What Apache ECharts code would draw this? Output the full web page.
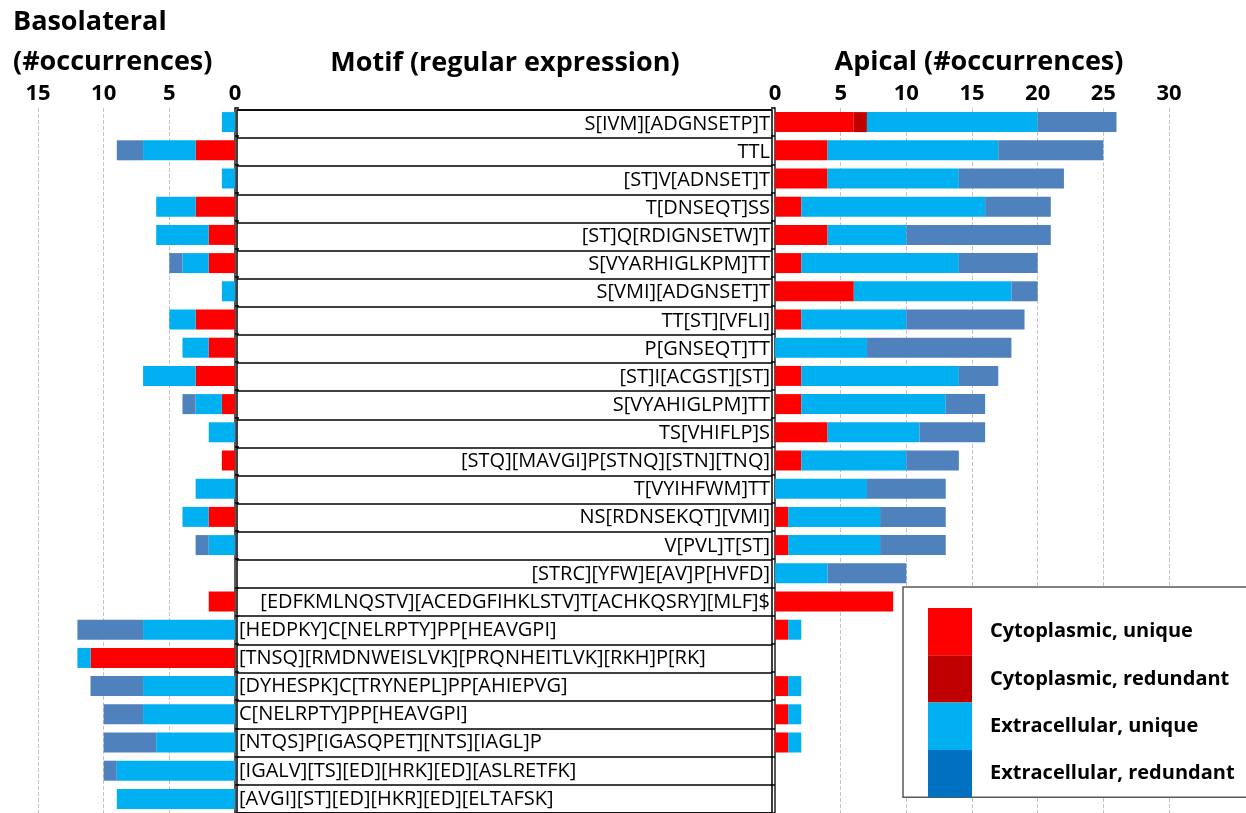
<!DOCTYPE html>
<html>
<head>
<meta charset="utf-8">
<script src="https://cdn.jsdelivr.net/npm/echarts@6/dist/echarts.min.js"></script>
<style>
html,body{margin:0;padding:0;background:#fff;}
#chart{width:1246px;height:813px;}
</style>
</head>
<body>
<div id="chart"></div>
<script>
const motifs = [
  'S[IVM][ADGNSETP]T',
  'TTL',
  '[ST]V[ADNSET]T',
  'T[DNSEQT]SS',
  '[ST]Q[RDIGNSETW]T',
  'S[VYARHIGLKPM]TT',
  'S[VMI][ADGNSET]T',
  'TT[ST][VFLI]',
  'P[GNSEQT]TT',
  '[ST]I[ACGST][ST]',
  'S[VYAHIGLPM]TT',
  'TS[VHIFLP]S',
  '[STQ][MAVGI]P[STNQ][STN][TNQ]',
  'T[VYIHFWM]TT',
  'NS[RDNSEKQT][VMI]',
  'V[PVL]T[ST]',
  '[STRC][YFW]E[AV]P[HVFD]',
  '[EDFKMLNQSTV][ACEDGFIHKLSTV]T[ACHKQSRY][MLF]$',
  '[HEDPKY]C[NELRPTY]PP[HEAVGPI]',
  '[TNSQ][RMDNWEISLVK][PRQNHEITLVK][RKH]P[RK]',
  '[DYHESPK]C[TRYNEPL]PP[AHIEPVG]',
  'C[NELRPTY]PP[HEAVGPI]',
  '[NTQS]P[IGASQPET][NTS][IAGL]P',
  '[IGALV][TS][ED][HRK][ED][ASLRETFK]',
  '[AVGI][ST][ED][HKR][ED][ELTAFSK]'
];
// number of leading rows whose motif text is right-aligned
const rightAlignedRows = 18;

const seriesNames = ['Cytoplasmic, unique','Cytoplasmic, redundant','Extracellular, unique','Extracellular, redundant'];

// Basolateral (#occurrences)
const basoCytoUnique      = [0,3,0,3,2,2,0,3,2,3,1,0,1,0,2,0,0,2,0,11,0,0,0,0,0];
const basoCytoRedundant   = [0,0,0,0,0,0,0,0,0,0,0,0,0,0,0,0,0,0,0,0,0,0,0,0,0];
const basoExtraUnique     = [1,4,1,3,4,2,1,2,2,4,2,2,0,3,2,2,0,0,7,1,7,7,6,9,9];
const basoExtraRedundant  = [0,2,0,0,0,1,0,0,0,0,1,0,0,0,0,1,0,0,5,0,4,3,4,1,0];

// Apical (#occurrences)
const apicalCytoUnique     = [6,4,4,2,4,2,6,2,0,2,2,4,2,0,1,1,0,9,1,0,1,1,1,0,0];
const apicalCytoRedundant  = [1,0,0,0,0,0,0,0,0,0,0,0,0,0,0,0,0,0,0,0,0,0,0,0,0];
const apicalExtraUnique    = [13,13,10,14,6,12,12,8,7,12,11,7,8,7,7,7,4,0,1,0,1,1,1,0,0];
const apicalExtraRedundant = [6,8,8,5,11,6,2,9,11,3,3,5,4,6,5,5,6,0,0,0,0,0,0,0,0];

const basoMax = 15, apicalMax = 30, tickStep = 5;

const colors = ['#FF0000','#C00000','#00B0F0','#4F81BD'];
const legendColors = ['#FF0000','#C00000','#00B0F0','#0070C0'];

const FONT = 'Open Sans';

function stack(arrays, axisIdx, stackName) {
  return arrays.map((arr, k) => ({
    name: seriesNames[k],
    type: 'bar',
    stack: stackName,
    xAxisIndex: axisIdx,
    yAxisIndex: axisIdx,
    barWidth: 20,
    data: arr,
    itemStyle: { color: colors[k] },
    emphasis: { disabled: true }
  }));
}

const tickLabel = { fontFamily: FONT, fontWeight: 'bold', fontSize: 22, color: '#000', margin: 3 };
const split = { show: true, lineStyle: { type: 'dashed', color: '#c4c4c4', width: 1 } };

const option = {
  animation: false,
  backgroundColor: '#fff',
  title: [
    { text: 'Basolateral\n(#occurrences)', left: 13, top: 42, padding: 0, textAlign: 'left', textVerticalAlign: 'middle',
      textStyle: { fontFamily: FONT, fontWeight: 'bold', fontSize: 27, lineHeight: 40, color: '#000' } },
    { text: 'Motif (regular expression)', left: 505, top: 63, padding: 0, textAlign: 'center', textVerticalAlign: 'middle',
      textStyle: { fontFamily: FONT, fontWeight: 'bold', fontSize: 27, color: '#000' } },
    { text: 'Apical (#occurrences)', left: 979, top: 62, padding: 0, textAlign: 'center', textVerticalAlign: 'middle',
      textStyle: { fontFamily: FONT, fontWeight: 'bold', fontSize: 27, color: '#000' } }
  ],
  legend: {
    orient: 'vertical',
    left: 903, top: 587,
    itemWidth: 44, itemHeight: 47.3, itemGap: 0,
    padding: [21, 40, 0, 25],
    borderColor: '#595959', borderWidth: 1.5,
    backgroundColor: '#fff',
    selectedMode: false,
    icon: 'rect',
    itemStyle: { borderWidth: 0 },
    textStyle: { fontFamily: FONT, fontWeight: 'bold', fontSize: 20, color: '#000', padding: [4,0,0,13] },
    data: seriesNames.map((n, k) => ({ name: n, itemStyle: { color: legendColors[k] } }))
  },
  grid: [
    { left: 38, top: 108, width: 197, height: 705 },
    { left: 775, top: 108, width: 394, height: 705 },
    { left: 237, top: 110, width: 535, height: 705, show: true, borderColor: '#000', borderWidth: 1.5, backgroundColor: '#fff' }
  ],
  xAxis: [
    { type: 'value', gridIndex: 0, min: 0, max: basoMax, interval: tickStep, inverse: true, position: 'top',
      axisLine: { show: false }, axisTick: { show: false }, axisLabel: tickLabel, splitLine: split },
    { type: 'value', gridIndex: 1, min: 0, max: apicalMax, interval: tickStep, position: 'top',
      axisLine: { show: false }, axisTick: { show: false }, axisLabel: tickLabel, splitLine: split },
    { type: 'value', gridIndex: 2, min: 0, max: 1, axisLine: { show: false }, axisTick: { show: false },
      axisLabel: { show: false }, splitLine: { show: false } }
  ],
  yAxis: [
    { type: 'category', gridIndex: 0, data: motifs, inverse: true, position: 'right',
      axisLine: { show: true, lineStyle: { color: '#595959', width: 2 } },
      axisTick: { show: true, length: 4, lineStyle: { color: '#000', width: 1.5 } },
      axisLabel: { show: false } },
    { type: 'category', gridIndex: 1, data: motifs, inverse: true, position: 'left',
      axisLine: { show: true, lineStyle: { color: '#595959', width: 2 } },
      axisTick: { show: true, length: 4, lineStyle: { color: '#000', width: 1.5 } },
      axisLabel: { show: false } },
    { type: 'category', gridIndex: 2, data: motifs, inverse: true,
      axisLine: { show: false }, axisTick: { show: false }, axisLabel: { show: false },
      splitLine: { show: true, lineStyle: { color: '#000', width: 1.6 } } }
  ],
  series: [
    ...stack([basoCytoUnique, basoCytoRedundant, basoExtraUnique, basoExtraRedundant], 0, 'baso'),
    ...stack([apicalCytoUnique, apicalCytoRedundant, apicalExtraUnique, apicalExtraRedundant], 1, 'apical'),
    {
      name: 'motifTable',
      type: 'bar',
      xAxisIndex: 2, yAxisIndex: 2,
      barWidth: '100%',
      silent: true,
      itemStyle: { color: 'rgba(0,0,0,0)' },
      data: motifs.map((m, i) => ({
        value: 1,
        label: {
          show: true,
          formatter: m.replace(/\$/g, '$$'),
          position: i < rightAlignedRows ? 'insideRight' : 'insideLeft',
          distance: 2,
          fontFamily: FONT, fontSize: 20, color: '#000'
        }
      }))
    }
  ]
};

const chart = echarts.init(document.getElementById('chart'), null, { renderer: 'canvas' });
chart.setOption(option);
</script>
</body>
</html>
